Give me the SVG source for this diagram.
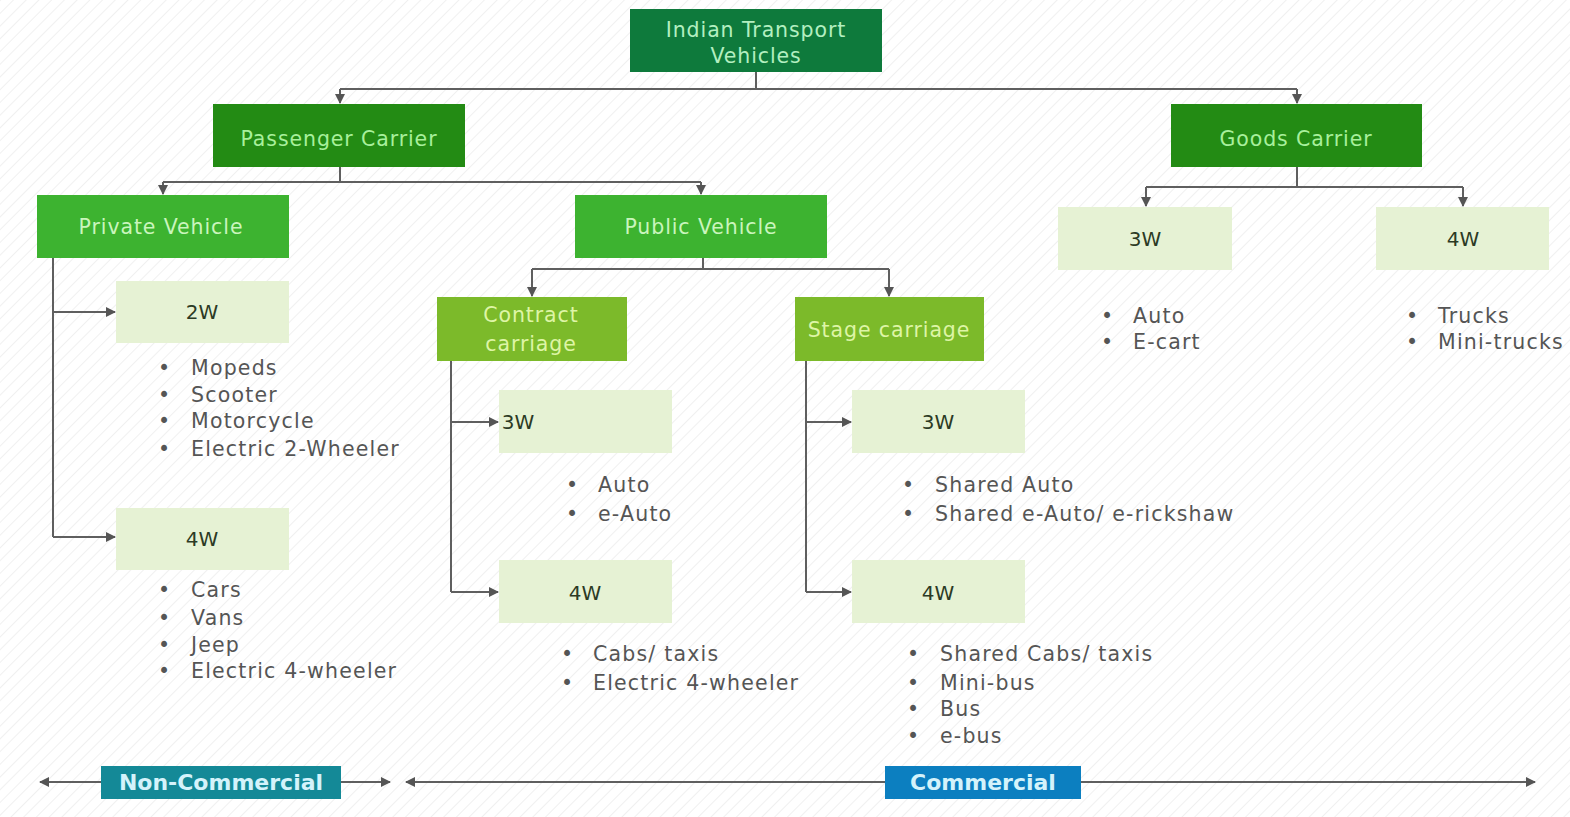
<svg xmlns="http://www.w3.org/2000/svg" width="1570" height="817" viewBox="0 0 1570 817">
<defs>
<pattern id="hatch" width="9" height="9" patternUnits="userSpaceOnUse" patternTransform="rotate(45)">
<rect width="9" height="9" fill="#ffffff"/>
<line x1="0" y1="0" x2="0" y2="9" stroke="#ececec" stroke-width="1.5"/>
</pattern>
<marker id="ah" viewBox="0 0 10 10" refX="9" refY="5" markerWidth="5" markerHeight="5" orient="auto-start-reverse" markerUnits="strokeWidth">
<path d="M0,0 L10,5 L0,10 z" fill="#555"/>
</marker>
<style>
text{font-family:"DejaVu Sans","Verdana",sans-serif;}
.c{fill:none;stroke:#5f5f5f;stroke-width:2;}
.lvl0{fill:#0e7a3c;}
.lvl1{fill:#238b14;}
.lvl2{fill:#3db330;}
.lvl3{fill:#7cba2a;}
.leaf{fill:#e6f2d4;}
.t0,.t1,.t2,.t3{font-size:20.5px;letter-spacing:0.9px;text-anchor:middle;}
.t0{fill:#b3efc0;}
.t1{fill:#a8f09c;}
.t2{fill:#caf5bd;}
.t3{fill:#def5a6;}
.tl{fill:#2c3a24;font-size:20px;text-anchor:middle;}
.b{fill:#555;font-size:20.5px;letter-spacing:1.2px;}
.band{font-size:22px;font-weight:bold;text-anchor:middle;fill:#d4f3fb;}
</style>
</defs>
<rect width="1570" height="817" fill="url(#hatch)"/>

<g id="connectors">
<path class="c" d="M756,72 V89 M340,89 H1297"/>
<path class="c" d="M340,89 V103" marker-end="url(#ah)"/>
<path class="c" d="M1297,89 V103" marker-end="url(#ah)"/>
<path class="c" d="M340,167 V182 M163,182 H701"/>
<path class="c" d="M163,182 V194" marker-end="url(#ah)"/>
<path class="c" d="M701,182 V194" marker-end="url(#ah)"/>
<path class="c" d="M53,258 V537"/>
<path class="c" d="M53,312 H115" marker-end="url(#ah)"/>
<path class="c" d="M53,537 H115" marker-end="url(#ah)"/>
<path class="c" d="M703,258 V269 M532,269 H889"/>
<path class="c" d="M532,269 V296" marker-end="url(#ah)"/>
<path class="c" d="M889,269 V296" marker-end="url(#ah)"/>
<path class="c" d="M451,361 V592"/>
<path class="c" d="M451,422 H498" marker-end="url(#ah)"/>
<path class="c" d="M451,592 H498" marker-end="url(#ah)"/>
<path class="c" d="M806,361 V592"/>
<path class="c" d="M806,422 H851" marker-end="url(#ah)"/>
<path class="c" d="M806,592 H851" marker-end="url(#ah)"/>
<path class="c" d="M1297,167 V187 M1146,187 H1463"/>
<path class="c" d="M1146,187 V206" marker-end="url(#ah)"/>
<path class="c" d="M1463,187 V206" marker-end="url(#ah)"/>
<path class="c" d="M40,782 H390" marker-start="url(#ah)" marker-end="url(#ah)"/>
<path class="c" d="M406,782 H1535" marker-start="url(#ah)" marker-end="url(#ah)"/>
</g>

<g id="root">
<rect class="lvl0" x="630" y="9" width="252" height="63"/>
<text class="t0" x="756" y="37">Indian Transport</text>
<text class="t0" x="756" y="63">Vehicles</text>
</g>

<g id="passenger">
<rect class="lvl1" x="213" y="104" width="252" height="63"/>
<text class="t1" x="339" y="146">Passenger Carrier</text>
</g>
<g id="goods">
<rect class="lvl1" x="1171" y="104" width="251" height="63"/>
<text class="t1" x="1296" y="146">Goods Carrier</text>
</g>

<g id="private">
<rect class="lvl2" x="37" y="195" width="252" height="63"/>
<text class="t2" x="161" y="234">Private Vehicle</text>
</g>
<g id="public">
<rect class="lvl2" x="575" y="195" width="252" height="63"/>
<text class="t2" x="701" y="234">Public Vehicle</text>
</g>

<g id="priv-2w">
<rect class="leaf" x="116" y="281" width="173" height="62"/>
<text class="tl" x="202" y="319">2W</text>
<text class="b"><tspan x="158" y="375">•</tspan><tspan x="191" y="375">Mopeds</tspan><tspan x="158" y="402">•</tspan><tspan x="191" y="402">Scooter</tspan><tspan x="158" y="428">•</tspan><tspan x="191" y="428">Motorcycle</tspan><tspan x="158" y="456">•</tspan><tspan x="191" y="456">Electric 2-Wheeler</tspan></text>
</g>
<g id="priv-4w">
<rect class="leaf" x="116" y="508" width="173" height="62"/>
<text class="tl" x="202" y="546">4W</text>
<text class="b"><tspan x="158" y="597">•</tspan><tspan x="191" y="597">Cars</tspan><tspan x="158" y="625">•</tspan><tspan x="191" y="625">Vans</tspan><tspan x="158" y="652">•</tspan><tspan x="191" y="652">Jeep</tspan><tspan x="158" y="678">•</tspan><tspan x="191" y="678">Electric 4-wheeler</tspan></text>
</g>

<g id="contract">
<rect class="lvl3" x="437" y="297" width="190" height="64"/>
<text class="t3" x="531" y="322">Contract</text>
<text class="t3" x="531" y="351">carriage</text>
</g>
<g id="stage">
<rect class="lvl3" x="795" y="297" width="189" height="64"/>
<text class="t3" x="889" y="337">Stage carriage</text>
</g>

<g id="contract-3w">
<rect class="leaf" x="499" y="390" width="173" height="63"/>
<text class="tl" x="518" y="429">3W</text>
<text class="b"><tspan x="566" y="492">•</tspan><tspan x="598" y="492">Auto</tspan><tspan x="566" y="521">•</tspan><tspan x="598" y="521">e-Auto</tspan></text>
</g>
<g id="contract-4w">
<rect class="leaf" x="499" y="560" width="173" height="63"/>
<text class="tl" x="585" y="600">4W</text>
<text class="b"><tspan x="561" y="661">•</tspan><tspan x="593" y="661">Cabs/ taxis</tspan><tspan x="561" y="690">•</tspan><tspan x="593" y="690">Electric 4-wheeler</tspan></text>
</g>

<g id="stage-3w">
<rect class="leaf" x="852" y="390" width="173" height="63"/>
<text class="tl" x="938" y="429">3W</text>
<text class="b"><tspan x="902" y="492">•</tspan><tspan x="935" y="492">Shared Auto</tspan><tspan x="902" y="521">•</tspan><tspan x="935" y="521">Shared e-Auto/ e-rickshaw</tspan></text>
</g>
<g id="stage-4w">
<rect class="leaf" x="852" y="560" width="173" height="63"/>
<text class="tl" x="938" y="600">4W</text>
<text class="b"><tspan x="907" y="661">•</tspan><tspan x="940" y="661">Shared Cabs/ taxis</tspan><tspan x="907" y="690">•</tspan><tspan x="940" y="690">Mini-bus</tspan><tspan x="907" y="716">•</tspan><tspan x="940" y="716">Bus</tspan><tspan x="907" y="743">•</tspan><tspan x="940" y="743">e-bus</tspan></text>
</g>

<g id="goods-3w">
<rect class="leaf" x="1058" y="207" width="174" height="63"/>
<text class="tl" x="1145" y="246">3W</text>
<text class="b"><tspan x="1101" y="323">•</tspan><tspan x="1133" y="323">Auto</tspan><tspan x="1101" y="349">•</tspan><tspan x="1133" y="349">E-cart</tspan></text>
</g>
<g id="goods-4w">
<rect class="leaf" x="1376" y="207" width="173" height="63"/>
<text class="tl" x="1463" y="246">4W</text>
<text class="b"><tspan x="1406" y="323">•</tspan><tspan x="1438" y="323">Trucks</tspan><tspan x="1406" y="349">•</tspan><tspan x="1438" y="349">Mini-trucks</tspan></text>
</g>

<g id="non-commercial">
<rect x="101" y="766" width="240" height="33" fill="#148997"/>
<text class="band" x="221" y="790">Non-Commercial</text>
</g>
<g id="commercial">
<rect x="885" y="766" width="196" height="33" fill="#0c7fc0"/>
<text class="band" x="983" y="790">Commercial</text>
</g>
</svg>
